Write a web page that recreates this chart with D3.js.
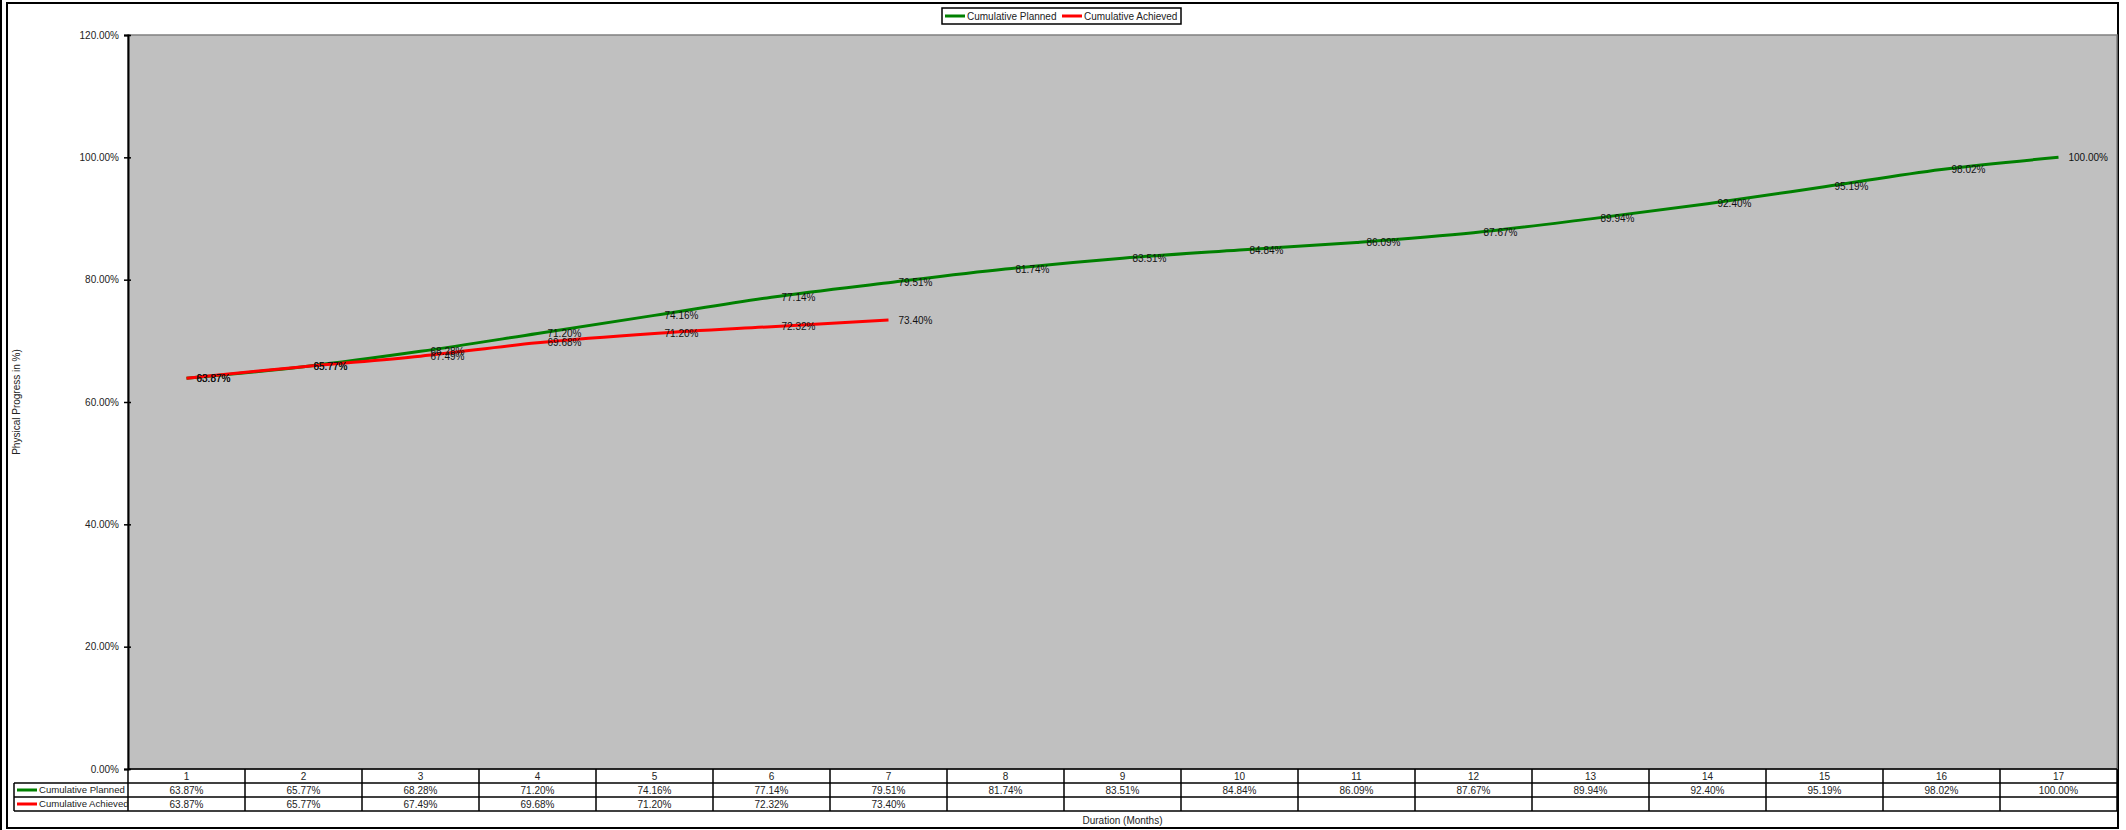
<!DOCTYPE html>
<html><head><meta charset="utf-8">
<script src="https://cdn.jsdelivr.net/npm/d3@7"></script>
<style>html,body{margin:0;padding:0;background:#fff;}svg{display:block;font-family:"Liberation Sans",Arial,sans-serif;}</style>
</head><body>
<svg id="chart" width="2126" height="830"></svg>
<script>
const categories = ["1","2","3","4","5","6","7","8","9","10","11","12","13","14","15","16","17"];
const planned = [63.87,65.77,68.28,71.20,74.16,77.14,79.51,81.74,83.51,84.84,86.09,87.67,89.94,92.40,95.19,98.02,100.00];
const achieved = [63.87,65.77,67.49,69.68,71.20,72.32,73.40];
const yTicks = [0,20,40,60,80,100,120];
const seriesNames = ["Cumulative Planned","Cumulative Achieved"];
const seriesColors = ["#008000","#FF0000"];

const svg = d3.select("#chart");
const L = 128, R = 2117, T = 35, B = 769;
const x = d3.scaleBand().domain(categories).range([L, R]);
const y = d3.scaleLinear().domain([0,120]).range([B, T]);
const cx = c => x(c) + x.bandwidth()/2;
const fmt = v => d3.format(".2f")(v) + "%";

// outer frame
svg.append("line").attr("x1",1).attr("x2",1).attr("y1",0).attr("y2",830).attr("stroke","#000").attr("stroke-width",2);
svg.append("rect").attr("x",7).attr("y",3).attr("width",2111).attr("height",825).attr("fill","#fff").attr("stroke","#000").attr("stroke-width",2);

// plot area
svg.append("rect").attr("x",L).attr("y",T).attr("width",R-L).attr("height",B-T).attr("fill","#C0C0C0").attr("stroke","#808080").attr("stroke-width",1.5);

// y axis
const yAxis = d3.axisLeft(y).tickValues(yTicks).tickFormat(fmt).tickSize(4).tickPadding(5);
const ga = svg.append("g").attr("transform",`translate(${L},0)`).call(yAxis);
ga.select(".domain").attr("stroke","#000").attr("stroke-width",2);
ga.selectAll(".tick line").attr("stroke","#000").attr("stroke-width",1.5).attr("x1",3);
ga.selectAll(".tick text").attr("font-size",10).attr("fill","#222").attr("font-family","Liberation Sans, Arial, sans-serif");

// y title
svg.append("text").attr("transform",`translate(20,${(T+B)/2}) rotate(-90)`).attr("text-anchor","middle")
  .attr("font-size",10).attr("fill","#222").text("Physical Progress in %)");

// lines
const lineGen = d3.line().x((d,i)=>cx(categories[i])).y(d=>y(d)).curve(d3.curveCardinal.tension(0));
[planned, achieved].forEach((s,k)=>{
  svg.append("path").datum(s).attr("d",lineGen).attr("fill","none").attr("stroke",seriesColors[k]).attr("stroke-width",3);
});
// labels
[planned, achieved].forEach((s,k)=>{
  svg.append("g").selectAll("text").data(s).join("text")
    .attr("x",(d,i)=>cx(categories[i])+10).attr("y",d=>y(d)).attr("dy","0.35em")
    .attr("font-size",10).attr("fill","#111").text(d=>fmt(d));
});

// data table
const tg = svg.append("g");
tg.append("line").attr("x1",L).attr("x2",R).attr("y1",B).attr("y2",B).attr("stroke","#000").attr("stroke-width",1.5);
[B+14,B+28,B+42].forEach(yy=>tg.append("line").attr("x1",14).attr("x2",R).attr("y1",yy).attr("y2",yy).attr("stroke","#000").attr("stroke-width",1.5));
tg.append("line").attr("x1",14).attr("x2",14).attr("y1",B+14).attr("y2",B+42).attr("stroke","#000").attr("stroke-width",1.5);
categories.forEach(c=>{
  tg.append("line").attr("x1",x(c)).attr("x2",x(c)).attr("y1",B).attr("y2",B+42).attr("stroke","#000").attr("stroke-width",1.5);
});
tg.append("line").attr("x1",R).attr("x2",R).attr("y1",B).attr("y2",B+42).attr("stroke","#000").attr("stroke-width",1.5);
tg.selectAll("text.h").data(categories).join("text").attr("class","h")
  .attr("x",c=>cx(c)).attr("y",B+7).attr("dy","0.35em").attr("text-anchor","middle").attr("font-size",10).attr("fill","#222").text(c=>c);
[planned, achieved].forEach((s,k)=>{
  const yy = B+14+14*k+7;
  tg.append("g").selectAll("text").data(s).join("text")
    .attr("x",(d,i)=>cx(categories[i])).attr("y",yy).attr("dy","0.35em").attr("text-anchor","middle")
    .attr("font-size",10).attr("fill","#222").text(d=>fmt(d));
  tg.append("line").attr("x1",17).attr("x2",37).attr("y1",yy).attr("y2",yy).attr("stroke",seriesColors[k]).attr("stroke-width",3);
  tg.append("text").attr("x",39).attr("y",yy).attr("dy","0.35em").attr("font-size",9.6).attr("fill","#222").text(seriesNames[k]);
});
svg.append("text").attr("x",(L+R)/2).attr("y",820).attr("dy","0.35em").attr("text-anchor","middle").attr("font-size",10).attr("fill","#222").text("Duration (Months)");

// legend
const lg = svg.append("g");
lg.append("rect").attr("x",942).attr("y",8).attr("width",239).attr("height",16).attr("fill","#fff").attr("stroke","#000").attr("stroke-width",1.5);
const legX = [945, 1062];
seriesNames.forEach((n,k)=>{
  lg.append("line").attr("x1",legX[k]).attr("x2",legX[k]+20).attr("y1",16).attr("y2",16).attr("stroke",seriesColors[k]).attr("stroke-width",3);
  lg.append("text").attr("x",legX[k]+22).attr("y",16).attr("dy","0.35em").attr("font-size",10).attr("fill","#222").text(n);
});
</script>
</body></html>
